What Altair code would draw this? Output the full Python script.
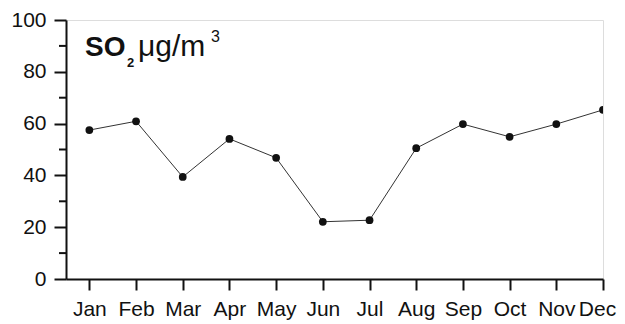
import altair as alt
import pandas as pd

months = ["Jan", "Feb", "Mar", "Apr", "May", "Jun", "Jul", "Aug", "Sep", "Oct", "Nov", "Dec"]
so2 = [57.5, 60.9, 39.4, 54.1, 46.8, 22.1, 22.7, 50.5, 59.8, 54.9, 59.8, 65.3]
major_ticks = [0, 20, 40, 60, 80, 100]
minor_ticks = [10, 30, 50, 70, 90]

FONT = "Liberation Sans"
INK = "#111111"

df = pd.DataFrame({"m": list(range(1, len(months) + 1)), "month": months, "v": so2})
minor_df = pd.DataFrame({"v": minor_ticks})

label_expr = "[" + ",".join("'%s'" % m for m in months) + "][datum.value - 1]"

x_enc = alt.X(
    "m:Q",
    scale=alt.Scale(domain=[0.5, 12], nice=False, zero=False),
    axis=alt.Axis(
        values=list(range(1, 13)), labelExpr=label_expr, title=None, grid=False,
        tickSize=11, tickWidth=2, tickColor=INK, domainWidth=2, domainColor=INK,
        labelFontSize=21, labelFont=FONT, labelColor=INK, labelPadding=8,
        labelFlush=False, labelOverlap=False,
        labelOffset={"condition": {"test": "datum.value == 12", "value": -6}, "value": 0},
    ),
)
y_enc = alt.Y(
    "v:Q",
    scale=alt.Scale(domain=[0, 100], nice=False),
    axis=alt.Axis(
        values=major_ticks, title=None, grid=False,
        tickSize=12, tickWidth=2, tickColor=INK, domainWidth=2, domainColor=INK,
        labelFontSize=21, labelFont=FONT, labelColor=INK, labelPadding=8,
    ),
)

base = alt.Chart(df)
line = base.mark_line(color="#333333", strokeWidth=1, clip=True).encode(x=x_enc, y=y_enc)
points = base.mark_circle(color=INK, opacity=1, size=60, clip=True).encode(x="m:Q", y="v:Q")

minor = alt.Chart(minor_df).mark_rule(color=INK, strokeWidth=2).encode(
    y="v:Q", x=alt.value(-7), x2=alt.value(0)
)

t1 = alt.Chart(pd.DataFrame({"t": ["SO"]})).mark_text(
    font=FONT, fontSize=28, fontWeight="bold", align="left", baseline="alphabetic", color=INK
).encode(text="t:N", x=alt.value(19), y=alt.value(35.5))
t2 = alt.Chart(pd.DataFrame({"t": ["2"]})).mark_text(
    font=FONT, fontSize=13, fontWeight="bold", align="left", baseline="alphabetic", color=INK
).encode(text="t:N", x=alt.value(61), y=alt.value(47))
t3 = alt.Chart(pd.DataFrame({"t": ["\u03bcg/m"]})).mark_text(
    font=FONT, fontSize=30, align="left", baseline="alphabetic", color=INK
).encode(text="t:N", x=alt.value(72), y=alt.value(35.5))
t4 = alt.Chart(pd.DataFrame({"t": ["3"]})).mark_text(
    font=FONT, fontSize=16, align="left", baseline="alphabetic", color=INK
).encode(text="t:N", x=alt.value(145), y=alt.value(21.5))

chart = alt.layer(line, points, minor, t1, t2, t3, t4).properties(
    width=537, height=259,
    autosize=alt.AutoSizeParams(type="none"),
    padding={"left": 58, "top": 12, "right": 14, "bottom": 50},
).configure_view(stroke=None).configure(background="white")

chart.save("out.html", embed_options={"renderer": "svg", "actions": False})
